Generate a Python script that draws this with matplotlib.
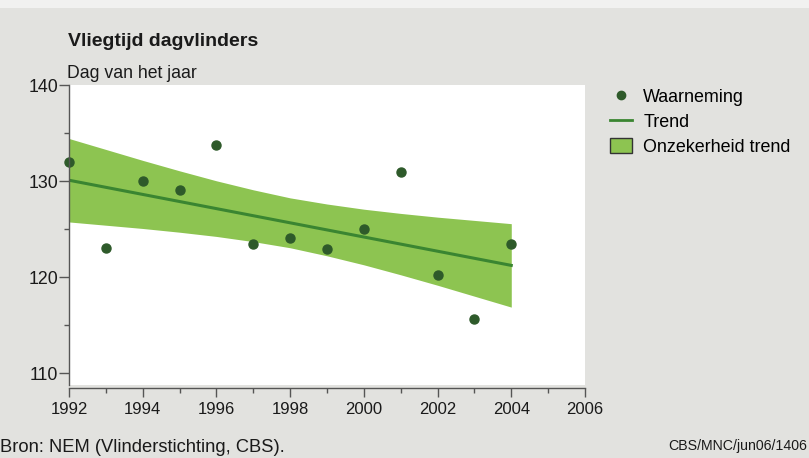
import matplotlib
matplotlib.use("Agg")
import matplotlib.pyplot as plt
from matplotlib.lines import Line2D
from matplotlib.patches import Patch, Rectangle
from matplotlib.ticker import MultipleLocator

plt.rcParams['font.family'] = ['Liberation Sans', 'DejaVu Sans']

# waarnemingen (dag van het jaar)
years = [1992, 1993, 1994, 1995, 1996, 1997, 1998, 1999, 2000, 2001, 2002, 2003, 2004]
obs = [132.0, 123.0, 130.0, 129.1, 133.8, 123.5, 124.1, 122.9, 125.0, 131.0, 120.2, 115.6, 123.5]

# trend en onzekerheidsband
trend = [130.1, 129.36, 128.62, 127.88, 127.14, 126.4, 125.66, 124.92, 124.18, 123.44, 122.7, 121.96, 121.22]
upper = [134.45, 133.31, 132.17, 131.08, 130.04, 129.1, 128.26, 127.62, 127.08, 126.64, 126.25, 125.91, 125.57]
lower = [125.75, 125.41, 125.07, 124.68, 124.24, 123.7, 123.06, 122.22, 121.28, 120.24, 119.15, 118.01, 116.87]

bg = '#e2e2df'
band_col = '#8dc451'
line_col = '#3a8531'
dot_col = '#2e5a2a'
txt = '#1a1a1a'
axcol = '#555555'

fig = plt.figure(figsize=(8.09, 4.58), dpi=100, facecolor=bg)
# lichte rand bovenaan
fig.patches.append(Rectangle((0, 1 - 8 / 458), 1, 8 / 458, transform=fig.transFigure,
                             facecolor='#f1f1f0', edgecolor='none', zorder=0))

ax = fig.add_axes([0.0853, 0.1594, 0.6378, 0.6544])
ax.set_facecolor('white')

ax.fill_between(years, lower, upper, color=band_col, linewidth=0)
ax.plot(years, trend, color=line_col, linewidth=2.2)
ax.plot(years, obs, 'o', color=dot_col, markersize=6.5, clip_on=False)

ax.set_xlim(1992, 2006)
ax.set_ylim(108.75, 140)
ax.xaxis.set_major_locator(MultipleLocator(2))
ax.xaxis.set_minor_locator(MultipleLocator(1))
ax.yaxis.set_major_locator(MultipleLocator(10))
ax.yaxis.set_minor_locator(MultipleLocator(5))

for s in ['top', 'right']:
    ax.spines[s].set_visible(False)
ax.spines['bottom'].set_position(('outward', 2))
for s in ['bottom', 'left']:
    ax.spines[s].set_color(axcol)
    ax.spines[s].set_linewidth(1.0)

ax.tick_params(axis='x', which='major', length=6.5, width=1, color=axcol,
               labelsize=12, labelcolor=txt, pad=4)
ax.tick_params(axis='x', which='minor', length=3.5, width=1, color=axcol)
ax.tick_params(axis='y', which='major', length=7, width=1, color=axcol,
               labelsize=12.8, labelcolor=txt, pad=1)
ax.tick_params(axis='y', which='minor', length=3.5, width=1, color=axcol)

fig.text(68 / 809, 1 - 42 / 458, 'Vliegtijd dagvlinders', fontsize=14,
         fontweight='bold', color=txt, va='center', ha='left')
fig.text(67 / 809, 1 - 74 / 458, 'Dag van het jaar', fontsize=12.7,
         color=txt, va='center', ha='left')

handles = [
    Line2D([], [], marker='o', linestyle='none', color=dot_col, markersize=6),
    Line2D([], [], color=line_col, linewidth=2),
    Patch(facecolor=band_col, edgecolor='#333333', linewidth=1),
]
labels = ['Waarneming', 'Trend', 'Onzekerheid trend']
fig.legend(handles, labels, loc='upper left', bbox_to_anchor=(610 / 809, 1 - 88 / 458),
           frameon=False, fontsize=12.9, handlelength=1.2, handleheight=0.9,
           handletextpad=0.65, labelspacing=0.42, borderaxespad=0, borderpad=0)

fig.text(0 / 809, 1 - 447 / 458, 'Bron: NEM (Vlinderstichting, CBS).', fontsize=13.2,
         color=txt, va='center', ha='left')
fig.text(807 / 809, 1 - 446 / 458, 'CBS/MNC/jun06/1406', fontsize=10.2,
         color=txt, va='center', ha='right')

fig.savefig('out.png', dpi=100, facecolor=bg)
